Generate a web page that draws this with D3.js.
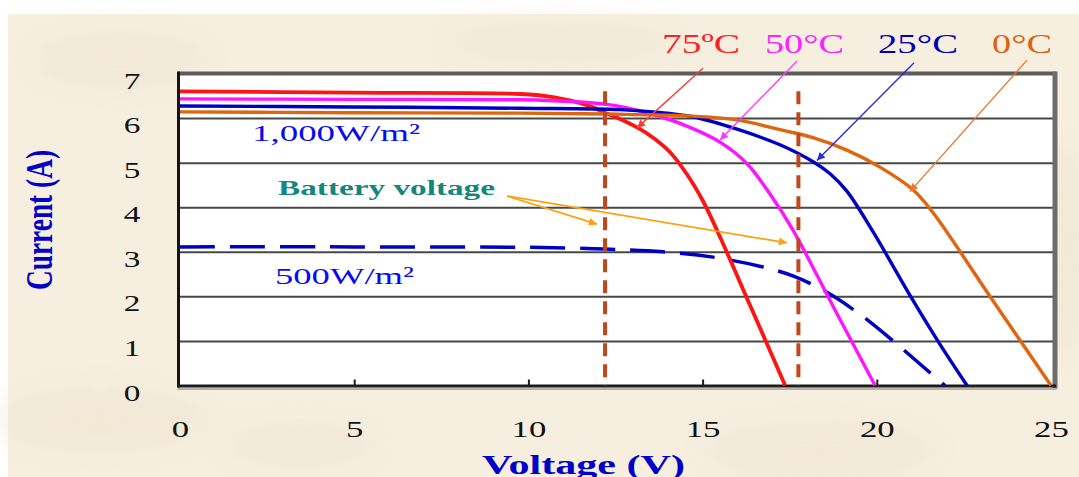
<!DOCTYPE html>
<html>
<head>
<meta charset="utf-8">
<script src="https://cdn.jsdelivr.net/npm/d3@7"></script>
<style>
  html, body { margin: 0; padding: 0; background: #ffffff; }
  svg { display: block; }
</style>
</head>
<body>
<svg id="chart" width="1079" height="477"></svg>
<script>
// ---- I–V characteristics of a PV module: voltage (V) vs current (A) ----
const voltageTicks = [0, 5, 10, 15, 20, 25];
const currentTicks = [0, 1, 2, 3, 4, 5, 6, 7];
const gridCurrents = [1, 2, 3, 4, 5, 6];

// 1,000 W/m² at four cell temperatures, [voltage, current]
const curve75C = [[0, 6.60], [4.9, 6.57], [9.76, 6.54], [10.71, 6.47], [11.68, 6.29], [12.2, 6.12],
  [12.63, 5.98], [13.12, 5.79], [13.58, 5.56], [14.06, 5.24], [14.55, 4.74], [15.01, 4.14],
  [15.41, 3.49], [16.39, 1.75], [17.37, 0]];
const curve50C = [[0, 6.43], [4.9, 6.42], [9.76, 6.41], [10.71, 6.39], [11.68, 6.35], [12.2, 6.31],
  [12.63, 6.26], [13.58, 6.08], [14.55, 5.82], [15.50, 5.46], [16.27, 4.98], [16.93, 4.30],
  [17.59, 3.49], [18.77, 1.74], [19.95, 0]];
const curve25C = [[0, 6.27], [4.9, 6.25], [9.76, 6.22], [12.63, 6.19], [13.58, 6.14], [14.72, 6.03],
  [15.99, 5.75], [17.22, 5.40], [18.17, 5.02], [18.66, 4.75], [19.14, 4.36], [19.86, 3.49],
  [21.0, 1.96], [21.8, 0.94], [22.59, 0]];
const curve0C = [[0, 6.14], [4.9, 6.12], [9.76, 6.11], [12.2, 6.09], [14.55, 6.05], [15.99, 5.96],
  [17.22, 5.74], [18.17, 5.56], [19.14, 5.28], [20.09, 4.90], [21.04, 4.39], [21.61, 3.88],
  [23.3, 1.94], [25.0, 0]];
// 500 W/m²
const curve500W = [[0, 3.11], [5, 3.11], [10, 3.10], [12.2, 3.06], [13.86, 3.00], [15.30, 2.88],
  [16.73, 2.66], [17.59, 2.46], [18.46, 2.14], [19.46, 1.63], [20.44, 1.02], [21.33, 0.42],
  [21.96, 0]];

// battery voltage markers
const batteryVoltages = [12.2, 17.75];
const batteryMarkerTop = 6.6;

// callout arrows, [from, to] in [voltage, current]
const tempArrows = [
  [[15.01, 7.12], [13.12, 5.78]],
  [[17.71, 7.28], [15.50, 5.51]],
  [[21.07, 7.24], [18.28, 5.05]],
  [[24.31, 7.30], [20.95, 4.35]]
];
const batteryArrowFrom = [9.39, 4.25];
const batteryArrowTo = [[11.97, 3.62], [17.42, 3.20]];

const tempLabels = ["75ºC", "50°C", "25°C", "0°C"];

// ---- styling ----
const serif = "'Liberation Serif', 'Times New Roman', serif";
const tempColors = ["#ff1414", "#ff14ff", "#0000c4", "#e0650f"];
const tempArrowColors = ["#ff3a3a", "#ff3cff", "#2a2ae0", "#e47a30"];
const tempLabelColors = ["#ff2020", "#ff22ff", "#0000b4", "#d9640f"];
const series = [curve75C, curve50C, curve25C, curve0C];

const svg = d3.select("#chart");
const W = 1079, H = 477;

const x = d3.scaleLinear().domain([0, 25]).range([180, 1051]);
const y = d3.scaleLinear().domain([0, 7]).range([385.5, 73.5]);

// ---- page background ----
const defs = svg.append("defs");
defs.append("filter").attr("id", "soft")
  .attr("x", "-50%").attr("y", "-50%").attr("width", "200%").attr("height", "200%")
  .append("feGaussianBlur").attr("stdDeviation", 16);

svg.append("rect").attr("width", W).attr("height", H).attr("fill", "#ffffff");
svg.append("rect").attr("x", 8).attr("y", 14).attr("width", W - 8).attr("height", H - 14)
  .attr("fill", "#f6efe0");

const texture = svg.append("g").attr("filter", "url(#soft)").attr("opacity", 0.35);
[[120, 60, 90, 28], [100, 420, 110, 32], [300, 445, 80, 22], [820, 450, 120, 28],
 [1060, 250, 30, 110], [560, 42, 120, 20]].forEach(([cx, cy, rx, ry]) => {
  texture.append("ellipse").attr("cx", cx).attr("cy", cy).attr("rx", rx).attr("ry", ry)
    .attr("fill", "#e8dcc3");
});

// ---- plot area ----
const plotL = x(0) - 1.5, plotR = x(25) + 2, plotT = y(7), plotB = y(0);
svg.append("rect").attr("x", plotL).attr("y", plotT).attr("width", plotR - plotL).attr("height", plotB - plotT)
  .attr("fill", "#ffffff");

// horizontal grid
svg.append("g")
  .attr("transform", `translate(${plotL},0)`)
  .call(d3.axisLeft(y).tickValues(gridCurrents).tickSize(-(plotR - plotL)).tickFormat(""))
  .call(g => g.select(".domain").remove())
  .call(g => g.selectAll(".tick line").attr("stroke", "#474747").attr("stroke-width", 2));

// frame
const frame = svg.append("g");
frame.append("line").attr("x1", plotL).attr("x2", plotR + 3).attr("y1", plotT).attr("y2", plotT)
  .attr("stroke", "#5c5c5c").attr("stroke-width", 4);
frame.append("line").attr("x1", plotR + 2).attr("x2", plotR + 2).attr("y1", plotT - 2).attr("y2", plotB + 3)
  .attr("stroke", "#6c6c6c").attr("stroke-width", 5);
frame.append("line").attr("x1", plotL).attr("x2", plotL).attr("y1", plotT - 2).attr("y2", plotB + 2)
  .attr("stroke", "#141414").attr("stroke-width", 3);
frame.append("line").attr("x1", plotL - 1).attr("x2", plotR + 4).attr("y1", plotB + 3.5).attr("y2", plotB + 3.5)
  .attr("stroke", "#b4b0a8").attr("stroke-width", 2);
frame.append("line").attr("x1", plotL - 1).attr("x2", plotR + 3).attr("y1", plotB + 0.5).attr("y2", plotB + 0.5)
  .attr("stroke", "#1c1c1c").attr("stroke-width", 3);

// inner tick marks on the voltage axis
svg.append("g")
  .attr("transform", `translate(0,${plotB})`)
  .call(d3.axisBottom(x).tickValues([5, 10, 15, 20]).tickSize(-6).tickFormat(""))
  .call(g => g.select(".domain").remove())
  .call(g => g.selectAll(".tick line").attr("stroke", "#1c1c1c").attr("stroke-width", 2));

// ---- curves ----
const line = d3.line().x(d => x(d[0])).y(d => y(d[1])).curve(d3.curveCatmullRom.alpha(0.5));

svg.append("path").datum(curve500W)
  .attr("d", line).attr("fill", "none")
  .attr("stroke", "#0000c4").attr("stroke-width", 3.5)
  .attr("stroke-dasharray", "35,15");

series.forEach((s, i) => {
  svg.append("path").datum(s)
    .attr("d", line).attr("fill", "none")
    .attr("stroke", tempColors[i]).attr("stroke-width", i === 0 ? 3.8 : 3.4)
    .attr("stroke-linejoin", "round");
});

// battery voltage markers
svg.append("g").selectAll("line").data(batteryVoltages).join("line")
  .attr("x1", d => x(d)).attr("x2", d => x(d))
  .attr("y1", y(batteryMarkerTop)).attr("y2", plotB)
  .attr("stroke", "#c2461c").attr("stroke-width", 4)
  .attr("stroke-dasharray", "13,8");

// ---- arrows ----
function arrowMarker(id, color) {
  defs.append("marker").attr("id", id)
    .attr("viewBox", "0 0 10 10").attr("refX", 10).attr("refY", 5)
    .attr("markerWidth", 11).attr("markerHeight", 8).attr("markerUnits", "userSpaceOnUse")
    .attr("orient", "auto")
    .append("path").attr("d", "M0,0 L10,5 L0,10 Z").attr("fill", color);
}
tempArrows.forEach((a, i) => {
  arrowMarker("arrow" + i, tempArrowColors[i]);
  svg.append("line")
    .attr("x1", x(a[0][0])).attr("y1", y(a[0][1]))
    .attr("x2", x(a[1][0])).attr("y2", y(a[1][1]))
    .attr("stroke", tempArrowColors[i]).attr("stroke-width", 1.4)
    .attr("marker-end", `url(#arrow${i})`);
});
arrowMarker("arrowBatt", "#ffa010");
batteryArrowTo.forEach(t => {
  svg.append("line")
    .attr("x1", x(batteryArrowFrom[0])).attr("y1", y(batteryArrowFrom[1]))
    .attr("x2", x(t[0])).attr("y2", y(t[1]))
    .attr("stroke", "#ffa010").attr("stroke-width", 1.7)
    .attr("marker-end", "url(#arrowBatt)");
});

// ---- text ----
function label(txt, px, py, size, color, width, weight) {
  return svg.append("text")
    .attr("x", px).attr("y", py)
    .attr("font-family", serif).attr("font-size", size)
    .attr("font-weight", weight || "normal")
    .attr("fill", color)
    .attr("textLength", width).attr("lengthAdjust", "spacingAndGlyphs")
    .text(txt);
}

// temperature labels along the top
const tempLabelPos = [[662, 78], [765, 79], [878, 80], [992, 60]];
tempLabels.forEach((t, i) => {
  label(t, tempLabelPos[i][0], 53, 28, tempLabelColors[i], tempLabelPos[i][1]);
});

label("1,000W/m²", 252, 141, 24, "#0a0af0", 168);
label("500W/m²", 275, 284, 24, "#0a0af0", 139);
label("Battery voltage", 278, 195, 21, "#13877c", 217, "bold");

// tick labels
svg.append("g")
  .attr("transform", "translate(132,0)")
  .call(d3.axisLeft(y).tickValues(currentTicks).tickSize(0).tickFormat(d3.format("d")))
  .call(g => g.select(".domain").remove())
  .call(g => g.selectAll("text")
    .attr("x", 0).attr("dy", null).attr("y", 14.5)
    .attr("text-anchor", "middle")
    .attr("font-family", serif).attr("font-size", 23).attr("fill", "#111")
    .attr("transform", "scale(1.45,1)"));

svg.append("g")
  .attr("transform", "translate(0,437)")
  .call(d3.axisBottom(x).tickValues(voltageTicks).tickSize(0).tickFormat(d3.format("d")))
  .call(g => g.select(".domain").remove())
  .call(g => g.selectAll(".tick").each(function () {
    // keep the horizontal stretch centred on each tick
    const t = d3.select(this);
    const tx = +t.attr("transform").match(/translate\(([-\d.]+)/)[1];
    t.attr("transform", `translate(${tx},0) scale(1.45,1)`);
  }))
  .call(g => g.selectAll("text")
    .attr("x", 0).attr("y", 0).attr("dy", null)
    .attr("text-anchor", "middle")
    .attr("font-family", serif).attr("font-size", 24).attr("fill", "#111"));

// axis titles
svg.append("text")
  .attr("transform", "translate(52,220) rotate(-90) scale(1,1.4)")
  .attr("text-anchor", "middle")
  .attr("font-family", serif).attr("font-size", 27).attr("font-weight", "bold")
  .attr("fill", "#0000c8")
  .attr("textLength", 140).attr("lengthAdjust", "spacingAndGlyphs")
  .text("Current (A)");

label("Voltage (V)", 482, 474, 28, "#0000c8", 203, "bold");
</script>
</body>
</html>
